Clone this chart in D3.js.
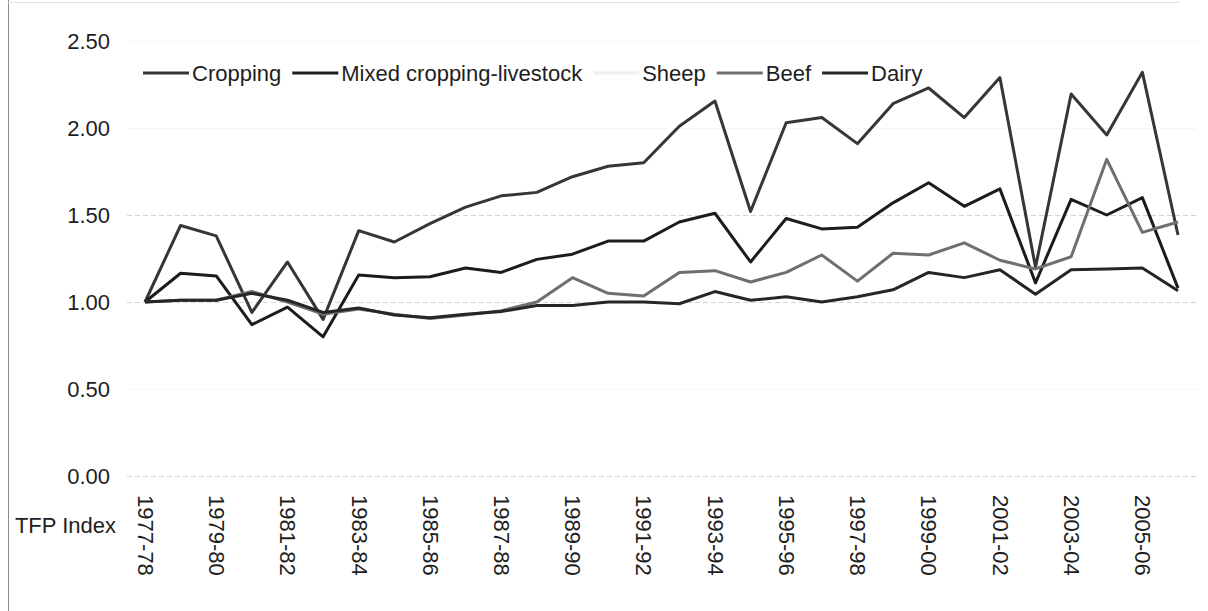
<!DOCTYPE html>
<html>
<head>
<meta charset="utf-8">
<script src="https://cdn.jsdelivr.net/npm/d3@7"></script>
<style>
  html, body { margin: 0; padding: 0; background: #fff; }
  svg { display: block; font-family: "Liberation Sans", Arial, sans-serif; }
</style>
</head>
<body>
<svg id="chart" width="1208" height="611"></svg>
<script>
// Financial years on the category axis
const years = ["1977-78","1978-79","1979-80","1980-81","1981-82","1982-83","1983-84","1984-85",
  "1985-86","1986-87","1987-88","1988-89","1989-90","1990-91","1991-92","1992-93","1993-94",
  "1994-95","1995-96","1996-97","1997-98","1998-99","1999-00","2000-01","2001-02","2002-03",
  "2003-04","2004-05","2005-06","2006-07"];

// TFP index by industry (1977-78 = 1.00)
const cropping = [1.00,1.44,1.38,0.94,1.23,0.90,1.41,1.345,1.45,1.545,1.61,1.63,1.72,1.78,1.80,
  2.01,2.155,1.52,2.03,2.06,1.91,2.14,2.23,2.06,2.29,1.20,2.195,1.96,2.32,1.385];
const mixed = [1.00,1.165,1.15,0.87,0.97,0.80,1.155,1.14,1.145,1.195,1.17,1.245,1.275,1.35,1.35,
  1.46,1.51,1.23,1.48,1.42,1.43,1.57,1.685,1.55,1.65,1.11,1.59,1.50,1.60,1.08];
const sheep = [];
const beef = [1.00,1.01,1.01,1.06,1.00,0.93,0.96,0.93,0.905,0.925,0.95,1.00,1.14,1.05,1.035,
  1.17,1.18,1.115,1.17,1.27,1.12,1.28,1.27,1.34,1.24,1.19,1.26,1.82,1.40,1.46];
const dairy = [1.00,1.01,1.01,1.05,1.01,0.94,0.965,0.925,0.91,0.93,0.945,0.98,0.98,1.00,1.00,
  0.99,1.06,1.01,1.03,1.00,1.03,1.07,1.17,1.14,1.185,1.045,1.185,1.19,1.195,1.065];

const seriesNames = ["Cropping","Mixed cropping-livestock","Sheep","Beef","Dairy"];
const seriesValues = [cropping, mixed, sheep, beef, dairy];
const seriesColors = ["#363636","#1c1c1c","#efefef","#6f6f6f","#262626"];

const yTicks = [0, 0.5, 1.0, 1.5, 2.0, 2.5];
const axisTitle = "TFP Index";

const svg = d3.select("#chart");
const plotLeft = 127, plotRight = 1196;
const fontSize = "22px";

const x = d3.scalePoint().domain(years).range([145, 1178]);
const y = d3.scaleLinear().domain([0, 2.5]).range([476, 41]);

// frame of the chart area
svg.append("line").attr("x1", 8.5).attr("x2", 8.5).attr("y1", 0).attr("y2", 611)
  .attr("stroke", "#8a8a8a").attr("stroke-width", 1);
svg.append("line").attr("x1", 8).attr("x2", 1180).attr("y1", 2.5).attr("y2", 2.5)
  .attr("stroke", "#e2e2e2").attr("stroke-width", 1);

// value axis with gridlines
const yAxis = svg.append("g")
  .attr("transform", `translate(${plotLeft},0)`)
  .call(d3.axisLeft(y).tickValues(yTicks).tickFormat(d3.format(".2f"))
    .tickSize(-(plotRight - plotLeft)).tickPadding(17));
yAxis.select(".domain").remove();
yAxis.selectAll(".tick line")
  .attr("stroke", d => (d === 0 || d === 1.5 || d === 1.0) ? "#d4d4d4" : "#f3f3f3")
  .attr("stroke-dasharray", "5,3");
yAxis.selectAll(".tick text")
  .attr("fill", "#1e1e1e").style("font-size", fontSize);

// category axis, labels every second year, reading downwards
const xAxis = svg.append("g")
  .attr("transform", `translate(0,${y(0)})`)
  .call(d3.axisBottom(x).tickValues(years.filter((d, i) => i % 2 === 0)).tickSize(0));
xAxis.select(".domain").remove();
xAxis.selectAll(".tick text")
  .attr("transform", "rotate(90)")
  .attr("x", 19).attr("y", 0).attr("dy", "0.35em")
  .attr("text-anchor", "start")
  .attr("fill", "#1e1e1e").style("font-size", fontSize);

svg.append("text").attr("x", 116).attr("y", 533).attr("text-anchor", "end")
  .attr("fill", "#1e1e1e").style("font-size", fontSize).text(axisTitle);

// series lines
const line = d3.line().x((d, i) => x(years[i])).y(d => y(d));
seriesValues.forEach((vals, k) => {
  if (!vals.length) return;
  svg.append("path").datum(vals)
    .attr("fill", "none").attr("stroke", seriesColors[k])
    .attr("stroke-width", 3).attr("stroke-linejoin", "round")
    .attr("d", line);
});

// legend across the top
const legend = svg.append("g").attr("transform", "translate(143,0)");
let lx = 0;
seriesNames.forEach((name, k) => {
  const g = legend.append("g").attr("transform", `translate(${lx},0)`);
  g.append("line").attr("x1", 0).attr("x2", 46).attr("y1", 73).attr("y2", 73)
    .attr("stroke", seriesColors[k]).attr("stroke-width", 3);
  const t = g.append("text").attr("x", 49).attr("y", 81)
    .attr("fill", "#1e1e1e").style("font-size", fontSize).text(name);
  lx += 49 + t.node().getComputedTextLength() + 11;
});
</script>
</body>
</html>
